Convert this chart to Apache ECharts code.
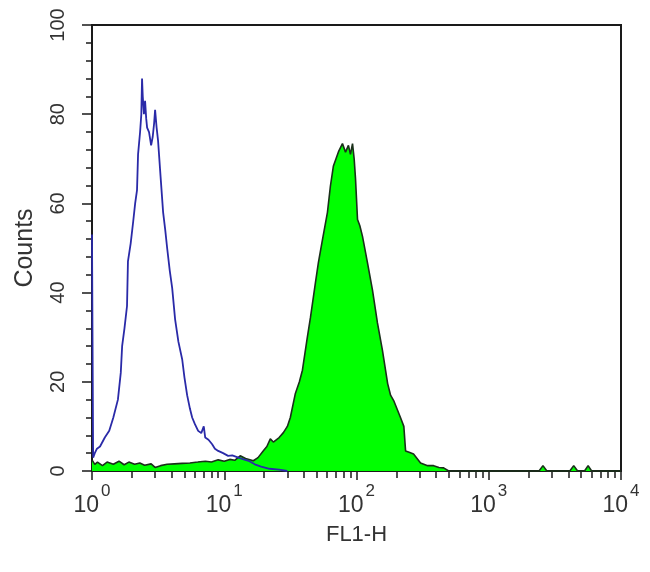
<!DOCTYPE html>
<html>
<head>
<meta charset="utf-8">
<script src="https://cdn.jsdelivr.net/npm/echarts@6/dist/echarts.min.js"></script>
<style>
html,body{margin:0;padding:0;background:#fff;}
#chart{width:650px;height:572px;}
</style>
</head>
<body>
<div id="chart"></div>
<script>
// Control (blue outline) histogram: FL1-H value, counts
const blueX = [1.0, 1.02, 1.05, 1.09, 1.15, 1.25, 1.35, 1.45, 1.57, 1.65, 1.69, 1.76, 1.84, 1.87, 1.96, 2.05, 2.12, 2.19, 2.23, 2.31, 2.36, 2.39, 2.42, 2.47, 2.52, 2.57, 2.61, 2.7, 2.8, 2.88, 2.95, 3.0, 3.08, 3.16, 3.3, 3.45, 3.58, 3.7, 3.87, 4.04, 4.25, 4.5, 4.81, 5.0, 5.24, 5.5, 5.72, 6.0, 6.35, 6.7, 7.0, 7.18, 7.6, 8.1, 8.5, 9.0, 9.8, 10.7, 11.5, 12.8, 14, 15.5, 17, 19, 22, 26, 30];
const blueY = [53, 3, 4, 5, 5.5, 7.5, 9, 12, 16, 22, 28, 32, 37, 47, 51, 56, 60, 63, 71, 76, 80, 88, 84, 80, 83, 79, 77, 76, 73, 75, 78, 81, 77, 74, 66, 58, 54, 50, 45, 41, 34, 29, 25, 21, 17, 14, 12, 10.5, 9, 8.5, 10, 7.5, 7, 6, 5, 4.5, 4, 3.4, 3.5, 3, 2.6, 2.2, 1.5, 1, 0.5, 0.3, 0];

// Stained (green filled) histogram: FL1-H value, counts
const greenX = [1.0, 1.05, 1.1, 1.2, 1.3, 1.45, 1.6, 1.75, 1.9, 2.1, 2.3, 2.5, 2.8, 3.0, 3.3, 3.7, 4.2, 4.8, 5.5, 6.3, 7.2, 8, 9, 10, 11, 12, 13.2, 14.5, 16.6, 18, 19.7, 21, 22.3, 23.5, 24.3, 26, 28, 30, 31.6, 34.5, 37, 39, 42.5, 44.9, 48.9, 51.5, 55.3, 60.3, 63.5, 66.9, 73.1, 78.3, 82.6, 86.9, 90, 93.3, 96, 98.3, 101.8, 106, 111, 121, 132, 144, 157, 172, 181, 191, 215, 228, 235, 250, 270, 305, 345, 383, 420, 456, 498, 2400, 2570, 2750, 4100, 4390, 4700, 5300, 5640, 6000, 10000];
const greenY = [2.5, 1.5, 2, 1.2, 2, 1.5, 2.2, 1.4, 2, 1.5, 1.8, 1.3, 1.6, 0.8, 1.2, 1.5, 1.6, 1.7, 1.8, 2, 2.2, 2.0, 2.5, 2.2, 2.6, 2.4, 3.4, 2.8, 2.3, 3, 4.5, 5.5, 7.2, 6.5, 6.1, 7.5, 8.6, 10, 12, 17.4, 20, 22.6, 30, 34.5, 42.2, 46.7, 51.9, 58, 63.9, 68.4, 71.6, 73.4, 71.5, 73, 71, 73.4, 70, 65.5, 56.4, 55, 52.6, 46.7, 40.6, 33.2, 27.1, 19.6, 17, 15.8, 12, 10, 4.5, 4.2, 3.8, 1.8, 1.2, 1.2, 0.8, 0.7, 0, 0, 1.2, 0, 0, 1.2, 0, 0, 1.2, 0, 0];

// Axis ticks (decades of the log axis, and the minor 2..9 ticks)
const decadeExponents = [0, 1, 2, 3, 4];
const minorFactors = [2, 3, 4, 5, 6, 7, 8, 9];
const yTicks = [0, 20, 40, 60, 80, 100];

const minorTickValues = [];
decadeExponents.slice(0, -1).forEach(function (d) {
  minorFactors.forEach(function (k) { minorTickValues.push(Math.log10(k * Math.pow(10, d))); });
});

function toLog(xs, ys) { return xs.map(function (x, i) { return [Math.log10(x), ys[i]]; }); }

const FONT = 'Liberation Sans';
const chart = echarts.init(document.getElementById('chart'), null, { renderer: 'canvas' });
chart.setOption({
  backgroundColor: '#ffffff',
  animation: false,
  grid: { left: 92, right: 29, top: 25, bottom: 101, show: true, borderColor: '#1a1a1a', borderWidth: 2, containLabel: false },
  xAxis: [{
    type: 'value', min: decadeExponents[0], max: decadeExponents[decadeExponents.length - 1], interval: 1,
    position: 'bottom',
    axisLine: { show: true, onZero: false, lineStyle: { color: '#1a1a1a', width: 2 } },
    axisTick: { show: true, length: 9, lineStyle: { color: '#1a1a1a', width: 1.5 } },
    splitLine: { show: false },
    axisLabel: {
      margin: 12, color: '#333',
      formatter: function (v) { return '{b|10}{s|' + v + '}'; },
      rich: {
        b: { fontFamily: FONT, fontSize: 23, lineHeight: 46, color: '#333' },
        s: { fontFamily: FONT, fontSize: 17, lineHeight: 17, verticalAlign: 'top', padding: [0, 0, 0, 2], color: '#333' }
      }
    },
    name: 'FL1-H', nameLocation: 'middle', nameGap: 53,
    nameTextStyle: { fontFamily: FONT, fontSize: 22, color: '#333', verticalAlign: 'top' }
  }, {
    type: 'value', min: 0, max: 4, position: 'bottom',
    axisLine: { show: false, onZero: false },
    axisLabel: { show: false },
    splitLine: { show: false },
    axisTick: { show: true, length: 7, customValues: minorTickValues, lineStyle: { color: '#1a1a1a', width: 1.5 } }
  }],
  yAxis: {
    type: 'value', min: yTicks[0], max: yTicks[yTicks.length - 1], interval: 20,
    axisLine: { show: true, lineStyle: { color: '#1a1a1a', width: 2 } },
    axisTick: { show: true, length: 10, lineStyle: { color: '#1a1a1a', width: 1.5 } },
    minorTick: { show: true, splitNumber: 5, length: 6, lineStyle: { color: '#1a1a1a', width: 1.5 } },
    splitLine: { show: false },
    minorSplitLine: { show: false },
    axisLabel: { rotate: 90, margin: 24, fontFamily: FONT, fontSize: 20, color: '#333' },
    name: 'Counts', nameLocation: 'middle', nameGap: 54,
    nameTextStyle: { fontFamily: FONT, fontSize: 25, color: '#333' }
  },
  series: [{
    name: 'stained', type: 'line', xAxisIndex: 0, data: toLog(greenX, greenY),
    symbol: 'none', clip: false,
    lineStyle: { color: '#1a2f1a', width: 1.6 },
    areaStyle: { color: '#00ff00', opacity: 1, origin: 'start' },
    z: 2
  }, {
    name: 'control', type: 'line', xAxisIndex: 0, data: toLog(blueX, blueY),
    symbol: 'none', clip: false,
    lineStyle: { color: '#2a2aa8', width: 1.8 },
    z: 3
  }]
});
</script>
</body>
</html>
